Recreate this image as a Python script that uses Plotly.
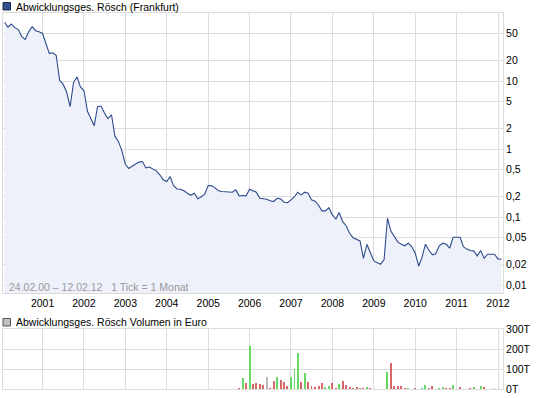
import plotly.graph_objects as go
import pandas as pd

# ---- data ----
price_start = "2000-02-01"
price = [
    73, 62, 69, 61, 57, 45, 41, 53, 63, 55, 53, 50,
    35, 25.5, 26, 24, 10.2, 9, 6.9, 4.2, 9.5, 11.5, 8.2, 7.2,
    3.6, 2.9, 2.2, 4.2, 4.3, 3.4, 2.8, 3.2, 1.55, 1.3, 0.95, 0.6,
    0.52, 0.56, 0.6, 0.645, 0.657, 0.53, 0.545, 0.51, 0.48, 0.42, 0.354, 0.334,
    0.395, 0.29, 0.26, 0.258, 0.245, 0.225, 0.21, 0.225, 0.186, 0.2, 0.218, 0.292,
    0.29, 0.27, 0.245, 0.238, 0.238, 0.235, 0.233, 0.252, 0.206, 0.208, 0.206, 0.258,
    0.246, 0.233, 0.19, 0.186, 0.184, 0.175, 0.17, 0.19, 0.186, 0.166, 0.164, 0.18,
    0.2, 0.233, 0.213, 0.233, 0.225, 0.18, 0.172, 0.15, 0.124, 0.124, 0.138, 0.108,
    0.094, 0.117, 0.086, 0.075, 0.058, 0.05, 0.0475, 0.0448, 0.0249, 0.04, 0.03, 0.0228,
    0.0215, 0.0204, 0.0236, 0.0967, 0.062, 0.052, 0.043, 0.04, 0.038, 0.0415, 0.037, 0.0296,
    0.0192, 0.0255, 0.0401, 0.033, 0.028, 0.029, 0.038, 0.0415, 0.04, 0.035, 0.0508, 0.0508,
    0.0508, 0.037, 0.034, 0.0325, 0.032, 0.027, 0.0323, 0.0249, 0.0286, 0.0286, 0.0286, 0.0244,
    0.0241,
]

vol_months = [
    "2005-10", "2005-11", "2005-12", "2006-01", "2006-02", "2006-03", "2006-04", "2006-05",
    "2006-06", "2006-07", "2006-08", "2006-09", "2006-10", "2006-11", "2006-12", "2007-01",
    "2007-02", "2007-03", "2007-04", "2007-05", "2007-06", "2007-07", "2007-08", "2007-09",
    "2007-10", "2007-11", "2007-12", "2008-01", "2008-02", "2008-03", "2008-04", "2008-05",
    "2008-06", "2008-07", "2008-08", "2008-09", "2008-10", "2008-11", "2008-12", "2009-05",
    "2009-06", "2009-07", "2009-08", "2009-09", "2009-10", "2009-11", "2010-01", "2010-03",
    "2010-04", "2010-05", "2010-06", "2010-08", "2010-09", "2010-10", "2010-11", "2010-12",
    "2011-02", "2011-05", "2011-06", "2011-08", "2011-09", "2011-12",
]
vol_thousands = [
    5, 55, 30, 215, 25, 30, 25, 20,
    60, 5, 40, 60, 45, 35, 15, 60,
    100, 180, 35, 80, 35, 15, 10, 15,
    30, 10, 15, 30, 5, 25, 40, 20,
    10, 5, 10, 5, 5, 10, 5, 85,
    130, 15, 15, 15, 5, 5, 5, 5,
    20, 5, 15, 5, 10, 5, 5, 20,
    10, 5, 10, 15, 10, 5,
]
vol_direction = [
    "down", "up", "down", "up", "down", "down", "down", "down",
    "flat", "down", "down", "up", "down", "down", "down", "up",
    "up", "up", "down", "up", "down", "down", "down", "down",
    "down", "up", "up", "down", "down", "up", "down", "down",
    "down", "down", "down", "down", "down", "up", "down", "up",
    "down", "down", "down", "down", "down", "up", "down", "up",
    "up", "down", "down", "up", "up", "down", "down", "up",
    "down", "down", "up", "up", "down", "up",
]

price_ticks = [0.01, 0.02, 0.05, 0.1, 0.2, 0.5, 1, 2, 5, 10, 20, 50]
price_tick_text = ["0,01", "0,02", "0,05", "0,1", "0,2", "0,5", "1", "2", "5", "10", "20", "50"]
vol_ticks = [0, 100, 200, 300]
vol_tick_text = ["0T", "100T", "200T", "300T"]
year_ticks = [f"{y}-01-01" for y in range(2001, 2013)]
year_text = [str(y) for y in range(2001, 2013)]

title_price = "Abwicklungsges. Rösch (Frankfurt)"
title_volume = "Abwicklungsges. Rösch Volumen in Euro"
range_note = "24.02.00 – 12.02.12\u00a0\u00a0\u00a01 Tick = 1 Monat"

# ---- styling ----
FONT = "Liberation Sans, Arial, sans-serif"
GRID = "#dcdcdc"
LINE = "#2d4b8c"
FILL = "#eef1f9"
dir_colors = {"up": "#66d866", "down": "#d96666", "flat": "#bbbbbb"}

dates = pd.date_range(price_start, periods=len(price), freq="MS")
vol_dates = pd.to_datetime([m + "-01" for m in vol_months])

W, H = 545, 398
ML, MR, MT, MB = 3, 42, 13, 9
plot_w = W - ML - MR
plot_h = H - MT - MB


def px_x(px):
    return (px - ML) / plot_w


def px_y(py):
    return (H - MB - py) / plot_h


fig = go.Figure()
fig.add_trace(go.Scatter(
    x=dates, y=price, mode="lines", fill="tozeroy",
    line=dict(color=LINE, width=1.1), fillcolor=FILL,
    xaxis="x", yaxis="y", hoverinfo="skip", showlegend=False,
))
fig.add_trace(go.Bar(
    x=vol_dates, y=vol_thousands,
    marker=dict(color=[dir_colors[d] for d in vol_direction], line=dict(width=0)),
    width=1.5e9, xaxis="x2", yaxis="y2", hoverinfo="skip", showlegend=False,
))

xrange = ["2000-01-18", "2012-02-14"]
axis_common = dict(
    showgrid=True, gridcolor=GRID, gridwidth=1,
    showline=True, linecolor=GRID, linewidth=1, mirror=True,
    zeroline=False, ticks="",
    tickfont=dict(family=FONT, size=10.5, color="#000"),
)

fig.update_layout(
    width=W, height=H,
    margin=dict(l=ML, r=MR, t=MT, b=MB, pad=0),
    paper_bgcolor="white", plot_bgcolor="white",
    font=dict(family=FONT, size=10.5, color="#000"),
    bargap=0,
    xaxis=dict(
        domain=[0, 1], anchor="y", type="date", range=xrange,
        tickvals=year_ticks, ticktext=year_text, **axis_common,
    ),
    yaxis=dict(
        domain=[px_y(293.3), 1], anchor="x", type="log",
        range=[-2.118, 2.0], side="right",
        tickvals=price_ticks, ticktext=price_tick_text, **axis_common,
    ),
    xaxis2=dict(
        domain=[0, 1], anchor="y2", type="date", range=xrange, matches="x",
        tickvals=year_ticks, showticklabels=False, **axis_common,
    ),
    yaxis2=dict(
        domain=[0, px_y(329.3)], anchor="x2", range=[0, 300], side="right",
        tickvals=vol_ticks, ticktext=vol_tick_text, **axis_common,
    ),
)

# legend-like headers
fig.add_shape(type="rect", xref="paper", yref="paper",
              x0=px_x(3), x1=px_x(10.5), y0=px_y(10), y1=px_y(2.5),
              fillcolor="#34508f", line=dict(color="#1c2a4c", width=1))
fig.add_annotation(xref="paper", yref="paper", x=px_x(14), y=px_y(6.5),
                   xanchor="left", yanchor="middle", showarrow=False,
                   text=title_price, font=dict(family=FONT, size=10.5, color="#000"))
fig.add_shape(type="rect", xref="paper", yref="paper",
              x0=px_x(3), x1=px_x(10.5), y0=px_y(326), y1=px_y(318.5),
              fillcolor="#c0c0c0", line=dict(color="#555555", width=1))
fig.add_annotation(xref="paper", yref="paper", x=px_x(14), y=px_y(322),
                   xanchor="left", yanchor="middle", showarrow=False,
                   text=title_volume, font=dict(family=FONT, size=10.5, color="#000"))
fig.add_annotation(xref="paper", yref="paper", x=px_x(7), y=px_y(286.5),
                   xanchor="left", yanchor="middle", showarrow=False,
                   text=range_note, font=dict(family=FONT, size=10.5, color="#9a9a9a"))

fig.write_html(
    "out.html",
    config={"displayModeBar": False, "staticPlot": True},
    post_script="document.body.style.margin='0px';document.body.style.overflow='hidden';",
)
